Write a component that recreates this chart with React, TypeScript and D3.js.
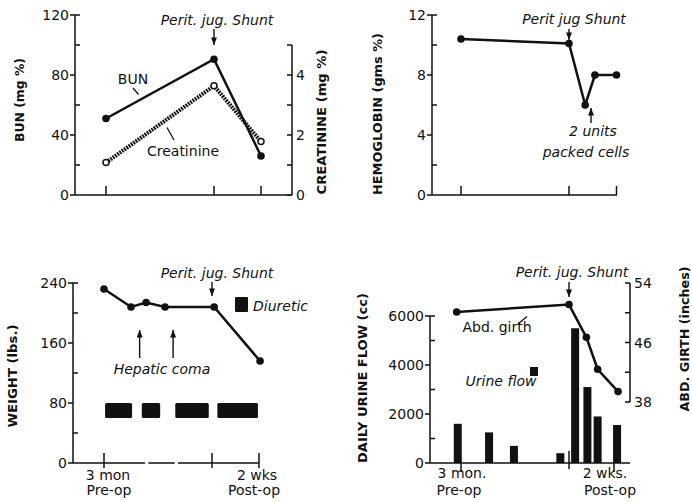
import * as d3 from "d3";

// time axis: 0 = 3 mon pre-op, 10 = shunt, 14.4 = 2 wks post-op
const timeTicks = [0, 10, 14.4];

// BUN / creatinine
const bunT = [0, 10, 14.4];
const bunVals = [51, 90.5, 26];
const creatT = [0, 10, 14.4];
const creatVals = [1.08, 3.64, 1.78];
const bunTicks = [0, 40, 80, 120];
const bunMinor = [20, 60, 100];
const creatTicks = [0, 2, 4];
const creatMinor = [1, 3, 5];

// hemoglobin
const hbT = [0, 10, 11.5, 12.4, 14.4];
const hbVals = [10.4, 10.1, 6, 8, 8];
const hbTicks = [0, 4, 8, 12];
const hbMinor = [2, 6, 10];

// weight + diuretic
const weightT = [0, 2.5, 3.9, 5.65, 10.2, 14.5];
const weightVals = [232, 208, 214, 208, 208, 136];
const diureticStart = [0.1, 3.5, 6.6, 10.5];
const diureticEnd = [2.6, 5.2, 9.7, 14.3];
const diureticBand = [60, 80];
const comaT = [3.3, 6.4];
const weightTicks = [0, 80, 160, 240];
const weightMinor = [40, 120, 200];

// urine flow + abd girth
const urineT = [-0.3, 2.6, 4.9, 9.2, 10.6, 11.8, 12.8, 14.7];
const urineVals = [1600, 1250, 700, 400, 5500, 3100, 1900, 1550];
const girthT = [-0.4, 10, 11.7, 12.8, 14.8];
const girthVals = [50.1, 51.1, 46.7, 42.4, 39.4];
const urineTicks = [0, 2000, 4000, 6000];
const urineMinor = [1000, 3000, 5000];
const girthTicks = [38, 46, 54];
const girthMinor = [42, 50];

const font = "'DejaVu Sans', sans-serif";
const ink = "#111";

function LeftAxis({ x, scale, major, minor }: any) {
  const [lo, hi] = scale.domain();
  return (
    <g stroke={ink} strokeWidth={1.5}>
      <line x1={x} x2={x} y1={scale(lo)} y2={scale(hi)} />
      {major.map((v: number) => (
        <g key={"M" + v}>
          <line x1={x - 5} x2={v === hi ? x + 5 : x} y1={scale(v)} y2={scale(v)} />
          <text x={x - 6} y={scale(v)} dy="0.36em" textAnchor="end" stroke="none" fill={ink}
            fontSize={14} fontFamily={font}>{v}</text>
        </g>
      ))}
      {minor.map((v: number) => (
        <line key={"m" + v} x1={x} x2={x + 5} y1={scale(v)} y2={scale(v)} />
      ))}
    </g>
  );
}

function RightAxis({ x, scale, major, minor, lo, hi }: any) {
  return (
    <g stroke={ink} strokeWidth={1.5}>
      <line x1={x} x2={x} y1={scale(lo)} y2={scale(hi)} />
      {major.concat(minor).map((v: number) => (
        <line key={"t" + v} x1={x - 5} x2={x} y1={scale(v)} y2={scale(v)} />
      ))}
      {major.map((v: number) => (
        <text key={"l" + v} x={x + 4} y={scale(v)} dy="0.36em" stroke="none" fill={ink}
          fontSize={14} fontFamily={font}>{v}</text>
      ))}
    </g>
  );
}

function Title({ cx, cy, len, size = 13, children }: any) {
  return (
    <text transform={`translate(${cx},${cy}) rotate(-90)`} dy="0.36em" textAnchor="middle"
      fontSize={size} fontWeight="bold" fontFamily={font} fill={ink}
      textLength={len} lengthAdjust="spacingAndGlyphs">{children}</text>
  );
}

function Note({ x, y, children, anchor = "middle", italic = true }: any) {
  return (
    <text x={x} y={y} textAnchor={anchor} fontSize={14} fontStyle={italic ? "italic" : "normal"}
      fontFamily={font} fill={ink}>{children}</text>
  );
}

function Arrow({ x, y1, y2 }: any) {
  return <line x1={x} x2={x} y1={y1} y2={y2} stroke={ink} strokeWidth={1.4} markerEnd="url(#ah)" />;
}

export default function App() {
  // panel 1
  const x1 = d3.scaleLinear().domain(timeTicks).range([106, 214, 261]);
  const yBun = d3.scaleLinear().domain([0, 120]).range([195, 15]);
  const yCre = d3.scaleLinear().domain([0, 5]).range([195, 45]);
  const bunPath = d3.line<number>().x((_, i) => x1(bunT[i])).y((d) => yBun(d))(bunVals) || "";
  const crePath = d3.line<number>().x((_, i) => x1(creatT[i])).y((d) => yCre(d))(creatVals) || "";

  // panel 2
  const x2 = d3.scaleLinear().domain(timeTicks).range([461, 569, 616.5]);
  const yHb = d3.scaleLinear().domain([0, 12]).range([195, 15]);
  const hbPath = d3.line<number>().x((_, i) => x2(hbT[i])).y((d) => yHb(d))(hbVals) || "";

  // panel 3
  const x3 = d3.scaleLinear().domain(timeTicks).range([104, 212, 259]);
  const yW = d3.scaleLinear().domain([0, 240]).range([463, 283]);
  const wPath = d3.line<number>().x((_, i) => x3(weightT[i])).y((d) => yW(d))(weightVals) || "";

  // panel 4
  const x4 = d3.scaleLinear().domain(timeTicks).range([461, 569, 614]);
  const yU = d3.scaleLinear().domain([0, 6000]).range([463, 316]);
  const yG = d3.scaleLinear().domain([38, 54]).range([402, 283]);
  const gPath = d3.line<number>().x((_, i) => x4(girthT[i])).y((d) => yG(d))(girthVals) || "";
  const barW = 8;

  return (
    <div style={{ position: "absolute", left: 0, top: 0 }}>
      <svg width={692} height={502} style={{ display: "block", background: "#fff" }}>
        <defs>
          <marker id="ah" viewBox="0 0 10 8" refX="10" refY="4" markerWidth="8" markerHeight="6"
            markerUnits="userSpaceOnUse" orient="auto">
            <path d="M0,0 L10,4 L0,8 z" fill={ink} />
          </marker>
        </defs>

        {/* ---------- panel 1: BUN / creatinine ---------- */}
        <LeftAxis x={75} scale={yBun} major={bunTicks} minor={bunMinor} />
        <RightAxis x={292} scale={yCre} major={creatTicks} minor={creatMinor} lo={0} hi={5} />
        <g stroke={ink} strokeWidth={1.5}>
          <line x1={75} x2={292} y1={195} y2={195} />
          {timeTicks.map((t) => <line key={t} x1={x1(t)} x2={x1(t)} y1={186} y2={195} />)}
        </g>
        <path d={crePath} fill="none" stroke={ink} strokeWidth={4} strokeDasharray="1.8 1" />
        <path d={bunPath} fill="none" stroke={ink} strokeWidth={2.5} />
        {bunVals.map((v, i) => <circle key={i} cx={x1(bunT[i])} cy={yBun(v)} r={3.8} fill={ink} />)}
        {creatVals.map((v, i) => (
          <circle key={i} cx={x1(creatT[i])} cy={yCre(v)} r={3} fill="#fff" stroke={ink} strokeWidth={1.5} />
        ))}
        <Note x={133} y={84} italic={false}>BUN</Note>
        <line x1={133} y1={88} x2={138.5} y2={94.5} stroke={ink} strokeWidth={1.3} />
        <Note x={183} y={156} italic={false}>Creatinine</Note>
        <line x1={167} y1={127.5} x2={174} y2={140} stroke={ink} strokeWidth={1.3} />
        <Note x={217} y={25}>Perit. jug. Shunt</Note>
        <Arrow x={x1(10)} y1={29} y2={45} />
        <Title cx={19} cy={100} len={84}>BUN (mg %)</Title>
        <Title cx={321} cy={122} len={145}>CREATININE (mg %)</Title>

        {/* ---------- panel 2: hemoglobin ---------- */}
        <LeftAxis x={432} scale={yHb} major={hbTicks} minor={hbMinor} />
        <g stroke={ink} strokeWidth={1.5}>
          <line x1={432} x2={617} y1={195} y2={195} />
          {timeTicks.map((t) => <line key={t} x1={x2(t)} x2={x2(t)} y1={186} y2={195} />)}
        </g>
        <path d={hbPath} fill="none" stroke={ink} strokeWidth={2.5} />
        {hbVals.map((v, i) => <circle key={i} cx={x2(hbT[i])} cy={yHb(v)} r={3.8} fill={ink} />)}
        <Note x={574} y={24}>Perit jug Shunt</Note>
        <Arrow x={x2(10)} y1={29} y2={40} />
        <Arrow x={591} y1={123} y2={108} />
        <Note x={593} y={136}>2 units</Note>
        <Note x={586} y={157}>packed cells</Note>
        <Title cx={377.5} cy={114} len={162}>HEMOGLOBIN (gms %)</Title>

        {/* ---------- panel 3: weight ---------- */}
        <LeftAxis x={73} scale={yW} major={weightTicks} minor={weightMinor} />
        <g stroke={ink} strokeWidth={1.5}>
          <line x1={73} x2={x3(3.8)} y1={463} y2={463} />
          <line x1={x3(4.1)} x2={x3(6.55)} y1={463} y2={463} />
          <line x1={x3(6.85)} x2={259} y1={463} y2={463} />
          {timeTicks.map((t) => <line key={t} x1={x3(t)} x2={x3(t)} y1={453} y2={468} />)}
        </g>
        {diureticStart.map((s, i) => (
          <rect key={i} x={x3(s)} width={x3(diureticEnd[i]) - x3(s)} y={yW(diureticBand[1])}
            height={yW(diureticBand[0]) - yW(diureticBand[1])} rx={1.5} fill={ink} />
        ))}
        <path d={wPath} fill="none" stroke={ink} strokeWidth={2.5} />
        {weightVals.map((v, i) => <circle key={i} cx={x3(weightT[i])} cy={yW(v)} r={3.8} fill={ink} />)}
        {comaT.map((t) => <Arrow key={t} x={x3(t)} y1={358} y2={330} />)}
        <Note x={162} y={374}>Hepatic coma</Note>
        <Note x={217} y={278}>Perit. jug. Shunt</Note>
        <Arrow x={x3(10)} y1={282} y2={296} />
        <rect x={235} y={297} width={13} height={15} rx={1} fill={ink} />
        <Note x={253} y={311} anchor="start">Diuretic</Note>
        <Note x={108} y={480} italic={false}>3 mon</Note>
        <Note x={109} y={495} italic={false}>Pre-op</Note>
        <Note x={257} y={480} italic={false}>2 wks</Note>
        <Note x={254} y={495} italic={false}>Post-op</Note>
        <Title cx={12.5} cy={376} len={103}>WEIGHT (lbs.)</Title>

        {/* ---------- panel 4: urine flow / abd girth ---------- */}
        <LeftAxis x={430} scale={yU} major={urineTicks} minor={urineMinor} />
        <RightAxis x={630} scale={yG} major={girthTicks} minor={girthMinor} lo={38} hi={54} />
        {urineVals.map((v, i) => (
          <rect key={i} x={x4(urineT[i]) - barW / 2} width={barW} y={yU(v)} height={yU(0) - yU(v)} fill={ink} />
        ))}
        <g stroke={ink} strokeWidth={1.5}>
          <line x1={430} x2={630} y1={463} y2={463} />
          <line x1={x4(0)} x2={x4(0)} y1={463} y2={472} />
          <line x1={x4(10)} x2={x4(10)} y1={451} y2={469} />
          <line x1={x4(14.4)} x2={x4(14.4)} y1={463} y2={472} />
        </g>
        <path d={gPath} fill="none" stroke={ink} strokeWidth={2.5} />
        {girthVals.map((v, i) => <circle key={i} cx={x4(girthT[i])} cy={yG(v)} r={3.8} fill={ink} />)}
        <Note x={572} y={277}>Perit. jug. Shunt</Note>
        <Arrow x={x4(10)} y1={282} y2={297} />
        <Note x={497} y={332} italic={false}>Abd. girth</Note>
        <line x1={518} y1={324} x2={527} y2={316.5} stroke={ink} strokeWidth={1.3} />
        <rect x={530} y={367} width={8} height={9} fill={ink} />
        <Note x={501} y={386}>Urine flow</Note>
        <Note x={462} y={478} italic={false}>3 mon.</Note>
        <Note x={459} y={495} italic={false}>Pre-op</Note>
        <Note x={605} y={478} italic={false}>2 wks.</Note>
        <Note x={610} y={495} italic={false}>Post-op</Note>
        <Title cx={362.5} cy={378} len={170}>DAILY URINE FLOW (cc)</Title>
        <Title cx={684.5} cy={339} len={145} size={12}>ABD. GIRTH (inches)</Title>
      </svg>
    </div>
  );
}
